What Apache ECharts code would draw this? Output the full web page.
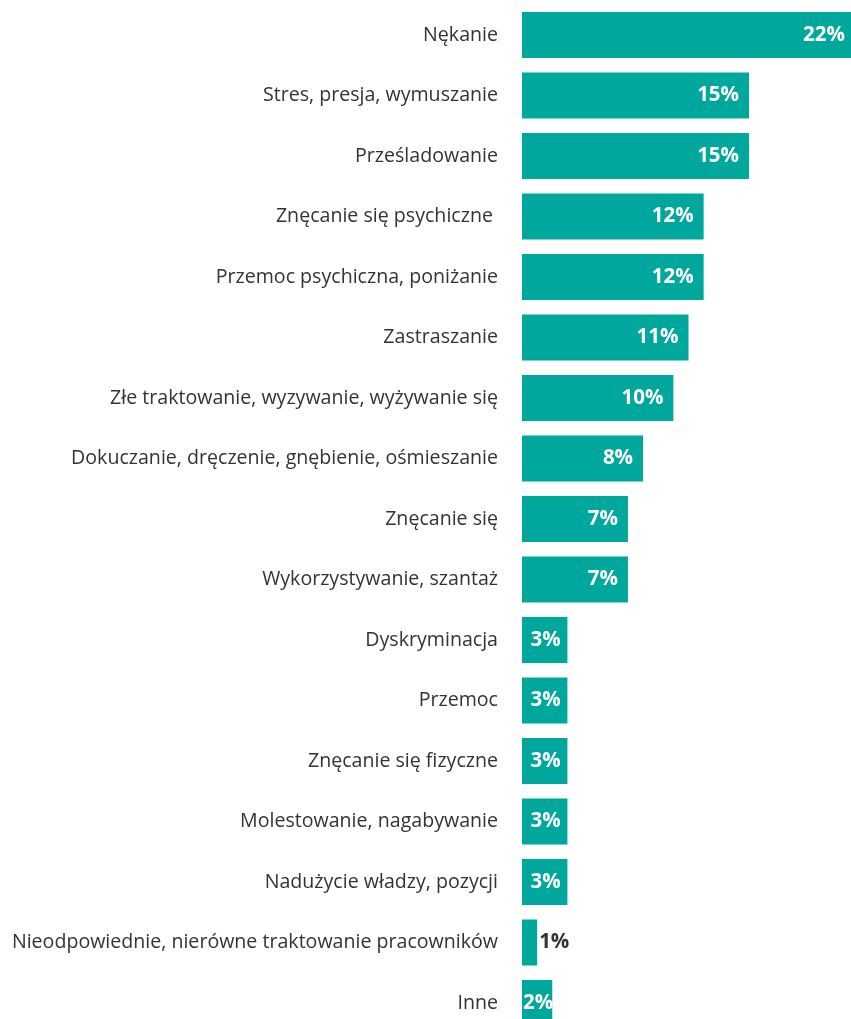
<!DOCTYPE html>
<html><head><meta charset="utf-8">
<script src="https://cdn.jsdelivr.net/npm/echarts@6/dist/echarts.min.js"></script>
<style>html,body{margin:0;padding:0;background:#fff}#c{width:851px;height:1019px}</style>
</head><body><div id="c"></div>
<script>
const categories = [
  "Nękanie",
  "Stres, presja, wymuszanie",
  "Prześladowanie",
  "Znęcanie się psychiczne ",
  "Przemoc psychiczna, poniżanie",
  "Zastraszanie",
  "Złe traktowanie, wyzywanie, wyżywanie się",
  "Dokuczanie, dręczenie, gnębienie, ośmieszanie",
  "Znęcanie się",
  "Wykorzystywanie, szantaż",
  "Dyskryminacja",
  "Przemoc",
  "Znęcanie się fizyczne",
  "Molestowanie, nagabywanie",
  "Nadużycie władzy, pozycji",
  "Nieodpowiednie, nierówne traktowanie pracowników",
  "Inne"
];
const values = [22, 15, 15, 12, 12, 11, 10, 8, 7, 7, 3, 3, 3, 3, 3, 1, 2];

const FONT = "Open Sans";
const data = values.map(v => {
  let label;
  if (v <= 1) label = {position: 'right', distance: 2, color: '#333'};
  else if (v <= 3) label = {position: 'inside', offset: [1, 0]};
  else label = {position: 'insideRight', distance: 10};
  return {value: v, label};
});

const chart = echarts.init(document.getElementById('c'), null, {renderer: 'canvas'});
chart.setOption({
  animation: false,
  grid: {left: 522, width: 333, top: 4.75, height: 1028.5, containLabel: false, outerBoundsMode: 'none'},
  xAxis: {type: 'value', min: 0, max: 22, show: false},
  yAxis: {
    type: 'category', data: categories, inverse: true,
    axisLine: {show: false}, axisTick: {show: false}, splitLine: {show: false},
    axisLabel: {color: '#333', fontSize: 19.6, fontFamily: FONT, margin: 24, verticalAlign: 'middle', lineHeight: 22, padding: [8, 0, 0, 0]}
  },
  series: [{
    type: 'bar', data, barWidth: 46, clip: false,
    itemStyle: {color: '#00A79D'},
    label: {show: true, formatter: '{c}%', color: '#fff', fontSize: 20.5, fontWeight: 'bold', fontFamily: FONT, padding: [10, 0, 0, 0]}
  }]
});
</script></body></html>
